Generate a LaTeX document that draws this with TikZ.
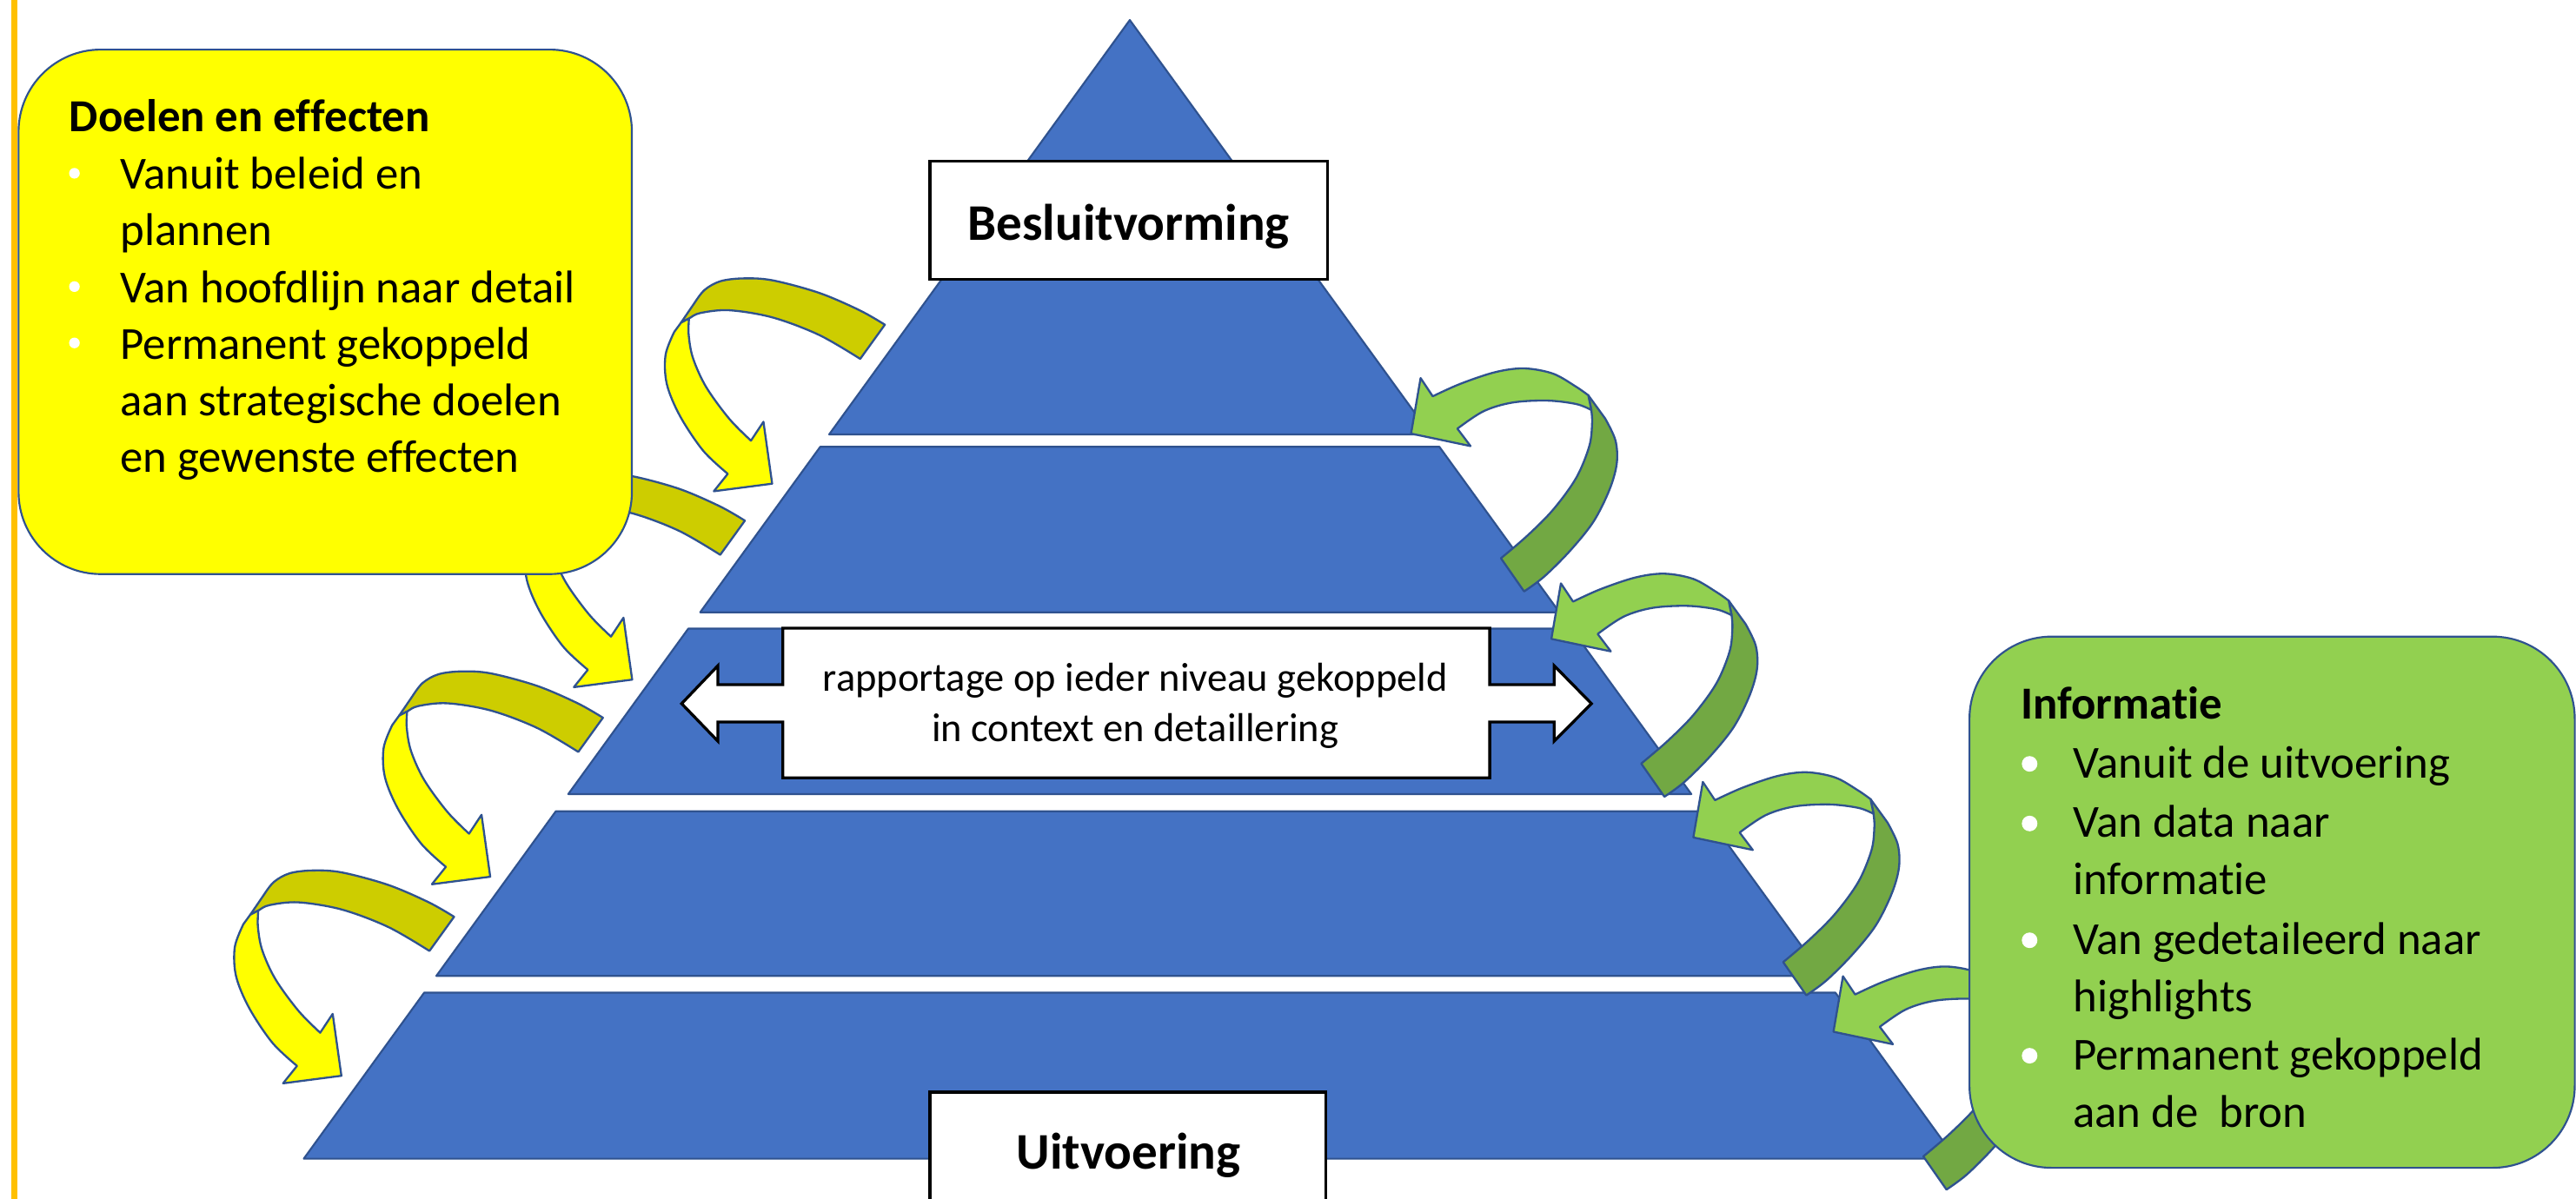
\documentclass[tikz,border=0pt]{standalone}
\usepackage{fontspec}
\setmainfont{Carlito}[Ligatures={NoCommon}]
\definecolor{pyrblue}{HTML}{4472C4}
\definecolor{edgeblue}{HTML}{2F528F}
\definecolor{yelA}{HTML}{FFFF00}
\definecolor{oliveA}{HTML}{CDCD00}
\definecolor{grnL}{HTML}{92D050}
\definecolor{grnD}{HTML}{72A843}
\definecolor{orangeA}{HTML}{FFC000}
\begin{document}
\begin{tikzpicture}[x=0.02cm,y=-0.02cm,
  layer/.style={fill=pyrblue,draw=edgeblue,line width=0.65pt,line join=round},
  olivebk/.style={fill=oliveA,draw=edgeblue,line width=0.7pt,line join=round},
  yelfr/.style={fill=yelA,draw=edgeblue,line width=0.7pt,line join=round},
  grnbk/.style={fill=grnD,draw=edgeblue,line width=0.7pt,line join=round},
  grnfr/.style={fill=grnL,draw=edgeblue,line width=0.7pt,line join=round},
  callout/.style={fill=white,draw=black,line width=1pt,line join=miter},
  tbox/.style={draw=black,fill=white,line width=1pt,inner sep=0,outer sep=0},
  ybox/.style={draw=edgeblue,fill=yelA,line width=0.65pt,rounded corners=1cm,inner sep=0,outer sep=0,anchor=north west,minimum width=7.468cm,minimum height=6.388cm},
  gbox/.style={draw=edgeblue,fill=grnL,line width=0.65pt,rounded corners=1cm,inner sep=0,outer sep=0,anchor=north west,minimum width=7.37cm,minimum height=6.47cm},
  lbl/.style={anchor=base west,inner sep=0,font=\fontsize{15.9}{19}\selectfont},
  hdr/.style={anchor=base west,inner sep=0,font=\fontsize{15.9}{19}\selectfont\bfseries},
  btext/.style={anchor=base,inner sep=0,font=\fontsize{17.8}{21}\selectfont\bfseries},
  rtext/.style={anchor=base,inner sep=0,font=\fontsize{14}{17}\selectfont},
  bulS/.style={circle,fill=white,inner sep=0,minimum size=0.13cm},
  bulL/.style={circle,fill=white,inner sep=0,minimum size=0.19cm},
  yarr/.pic={
    \filldraw[olivebk] plot[smooth,tension=0.55] coordinates {(68.6,-96.8) (53.2,-105.6) (28.5,-116.2) (0.3,-123.8) (-17.3,-125) (-31.4,-123.3) (-41.1,-118) (-47.3,-110)}
      -- (-55.5,-98)
      -- plot[smooth,tension=0.55] coordinates {(-55.5,-98) (-50.6,-100.6) (-43.8,-103.9) (-26.1,-105.6) (0.3,-101.2) (28.5,-90.6) (53.6,-76)} -- cycle;
    \filldraw[yelfr] (-55.5,-98)
      -- plot[smooth,tension=0.55] coordinates {(-59.6,-92.4) (-64.9,-78.3) (-64.1,-60.6) (-56.1,-41.2) (-42,-20.1) (-27,-6)}
      -- (-35.5,4.6) -- (0,0) -- (-5.3,-37.7)
      -- plot[smooth,tension=0.55] coordinates {(-12.9,-26.2) (-26.1,-39.5) (-40.2,-58.9) (-48.2,-76.5) (-50.8,-90.6) (-50.6,-100.6)} -- cycle;
  },
  garr/.pic={
    \filldraw[grnbk] (107.9,-23.3)
      -- plot[smooth,tension=0.55] coordinates {(118.2,-9.1) (124.4,4.1) (125.2,18.2) (120.8,34.1) (111.1,53.5) (97,71.1) (81.1,87) (68.8,96.1)}
      -- (54.7,75.9)
      -- plot[smooth,tension=0.55] coordinates {(54.7,75.9) (70.6,62.3) (86.4,46.4) (100.5,27) (108.5,7.6) (110.2,-6.5) (109.7,-14.4)} -- cycle;
    \filldraw[grnfr] (0,0) -- (5.8,-33.8)
      -- plot[smooth,tension=0.55] coordinates {(13.2,-22.7) (30,-30.3) (51.2,-37.4) (68.8,-39.7) (86.4,-36.5) (100.5,-28.5) (107.9,-23.3)}
      -- (109.7,-14.4)
      -- plot[smooth,tension=0.55] coordinates {(109.7,-14.4) (100.5,-18) (82.9,-20.1) (61.7,-18.9) (44.1,-13.6) (28.2,-3)}
      -- (36.2,7.6) -- cycle;
  }
]
\useasboundingbox (0,0) rectangle (1568,730);
\fill[white] (0,0) rectangle (1568,730);
\fill[orangeA] (6.7,0) rectangle (10.6,730);

% pyramid layers
\draw[layer] (687.7,12.2) -- (870.7,264.5) -- (504.7,264.5) -- cycle;
\draw[layer] (499.3,272) -- (876.1,272) -- (949.2,372.8) -- (426.2,372.8) -- cycle;
\draw[layer] (419.0,382.7) -- (956.4,382.7) -- (1029.5,483.5) -- (345.9,483.5) -- cycle;
\draw[layer] (338.3,494) -- (1037.1,494) -- (1109.8,594.2) -- (265.6,594.2) -- cycle;
\draw[layer] (258.2,604.4) -- (1117.2,604.4) -- (1190.5,705.5) -- (184.9,705.5) -- cycle;

% double arrow callout
\draw[callout] (476.5,382.5) -- (906.8,382.5) -- (906.8,416.9) -- (946,416.9) -- (946,405.3) -- (968.7,428.4) -- (946,451.3) -- (946,439.6) -- (906.8,439.6) -- (906.8,473.6) -- (476.5,473.6) -- (476.5,439.6) -- (437,439.6) -- (437,451.3) -- (414.9,428.4) -- (437,405.3) -- (437,416.9) -- (476.5,416.9) -- cycle;
\node[rtext] (rap1) at (691,421) {rapportage op ieder niveau gekoppeld};
\node[rtext] (rap2) at (691,451.3) {in context en detaillering};

% level boxes
\node[tbox,minimum width=4.84cm,minimum height=1.44cm] (besl) at (687,134) {};
\node[btext] (beslT) at (687,146.4) {Besluitvorming};
\node[tbox,minimum width=4.82cm,minimum height=2.1cm] (uitv) at (686.5,717.5) {};
\node[btext] (uitvT) at (687,711.6) {Uitvoering};

% curved arrows
\pic at (470,294.5) {yarr};
\pic at (384.8,413.8) {yarr};
\pic at (298.4,533.8) {yarr};
\pic at (207.8,655) {yarr};
\pic at (858.9,264) {garr};
\pic at (944.3,389) {garr};
\pic at (1030.7,509.9) {garr};
\pic at (1116,628.2) {garr};

% left text box
\node[ybox] (doel) at (11.3,30.2) {};
\node[hdr] (doelH) at (41.9,80.3) {Doelen en effecten};
\node[lbl] (d1) at (72.9,115.3) {Vanuit beleid en};
\node[lbl] (d2) at (72.9,149.5) {plannen};
\node[lbl] (d3) at (72.9,184.2) {Van hoofdlijn naar detail};
\node[lbl] (d4) at (72.9,218.5) {Permanent gekoppeld};
\node[lbl] (d5) at (72.9,253.2) {aan strategische doelen};
\node[lbl] (d6) at (72.9,287.7) {en gewenste effecten};
\node[bulS] (db1) at (45.3,105.5) {};
\node[bulS] (db2) at (45.3,174.5) {};
\node[bulS] (db3) at (45.3,208.8) {};

% right text box
\node[gbox] (info) at (1198.8,387.6) {};
\node[hdr] (infoH) at (1229.8,437.6) {Informatie};
\node[lbl] (i1) at (1261.5,473.6) {Vanuit de uitvoering};
\node[lbl] (i2) at (1261.5,509.9) {Van data naar};
\node[lbl] (i3) at (1261.5,544.8) {informatie};
\node[lbl] (i4) at (1261.5,581) {Van gedetaileerd naar};
\node[lbl] (i5) at (1261.5,615.9) {highlights};
\node[lbl] (i6) at (1261.5,651.3) {Permanent gekoppeld};
\node[lbl] (i7) at (1261.5,686.6) {aan de\ \ bron};
\node[bulL] (ib1) at (1235.4,465.1) {};
\node[bulL] (ib2) at (1235.4,501.4) {};
\node[bulL] (ib3) at (1235.4,572.5) {};
\node[bulL] (ib4) at (1235.4,642.8) {};
\end{tikzpicture}
\end{document}
